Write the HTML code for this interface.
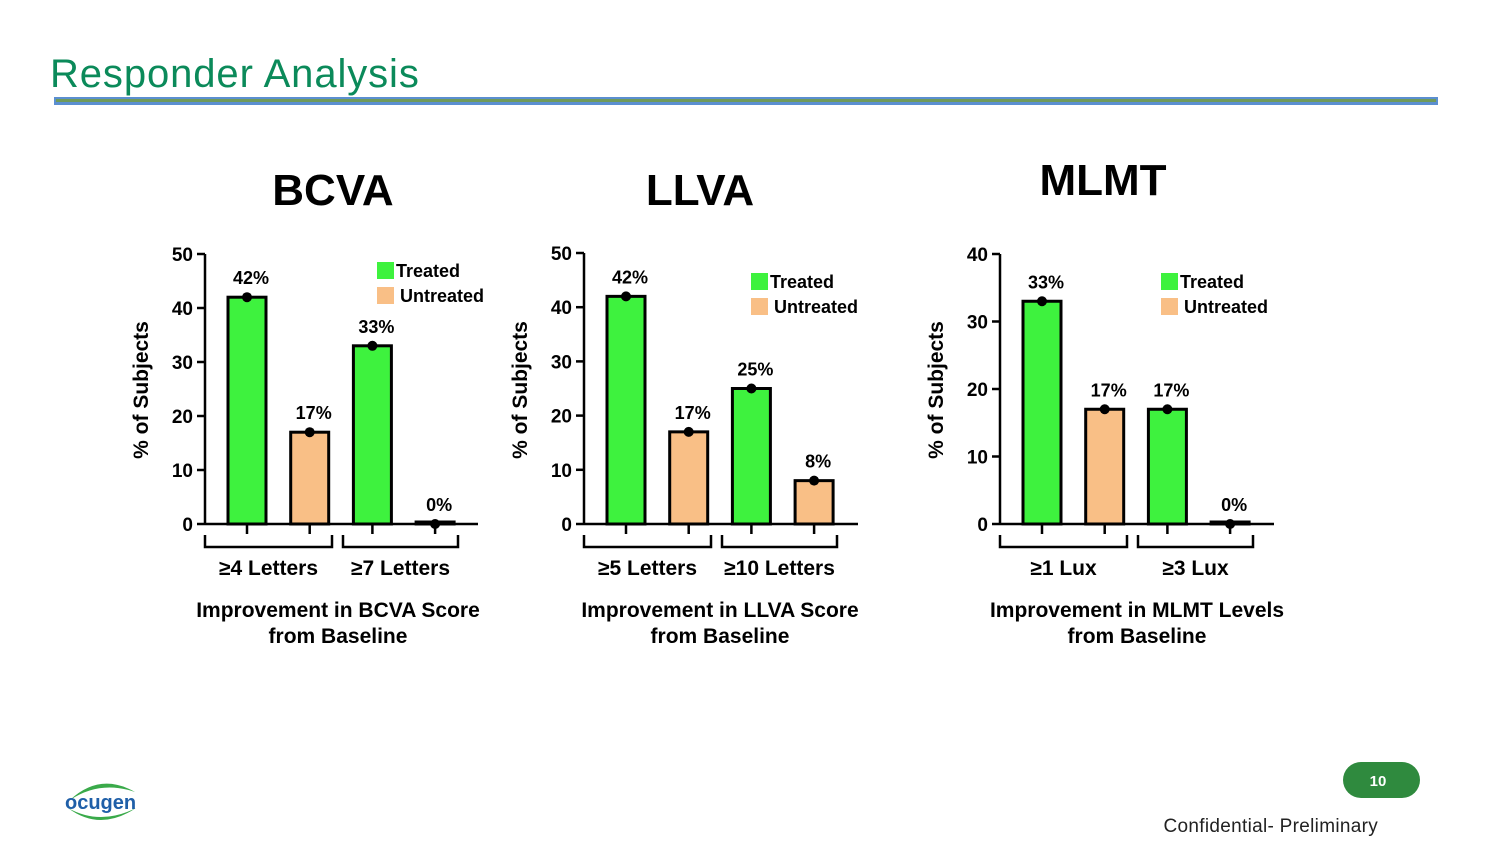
<!DOCTYPE html>
<html><head><meta charset="utf-8"><style>
body{margin:0;background:#fff;width:1500px;height:844px;overflow:hidden;font-family:"Liberation Sans",sans-serif}
svg text{font-family:"Liberation Sans",sans-serif}
</style></head><body>
<svg id="s" width="1500" height="844" xmlns="http://www.w3.org/2000/svg">
<text x="50" y="87" font-family="Liberation Sans" font-size="40" letter-spacing="0.9" fill="#0b8a5a">Responder Analysis</text>
<rect x="54" y="97" width="1384" height="8" fill="#5b8fd0"/>
<rect x="56" y="99" width="1380" height="3" fill="#6f9a5a"/>
<g>
<path d="M70 800 Q100 772 135 792 Q100 780 70 800Z" fill="#3aaa4a"/>
<path d="M68 808 Q100 832 136 808 Q100 826 68 808Z" fill="#3aaa4a"/>
<text x="65" y="809" font-size="20" font-weight="bold" fill="#1f5fa8">ocugen</text>
</g>
<rect x="1343" y="762" width="77" height="36" rx="18" fill="#2f8a3e"/>
<text x="1378" y="786" font-size="15" font-weight="bold" fill="#fff" text-anchor="middle">10</text>
<text x="1378" y="832" font-size="19" fill="#222" text-anchor="end" letter-spacing="0.3">Confidential- Preliminary</text>
<g id="charts"></g>
</svg>
<script>
const titles=["BCVA","LLVA","MLMT"];
const groupLabels=[["≥4 Letters","≥7 Letters"],["≥5 Letters","≥10 Letters"],["≥1 Lux","≥3 Lux"]];
const xTitles=[["Improvement in BCVA Score","from Baseline"],["Improvement in LLVA Score","from Baseline"],["Improvement in MLMT Levels","from Baseline"]];
const valuesBCVA=[42,17,33,0];
const valuesLLVA=[42,17,25,8];
const valuesMLMT=[33,17,17,0];
const allValues=[valuesBCVA,valuesLLVA,valuesMLMT];
const yMaxes=[50,50,40];
const yTicks=[[0,10,20,30,40,50],[0,10,20,30,40,50],[0,10,20,30,40]];
const barKinds=["treated","untreated","treated","untreated"];
const seriesNames=["Treated","Untreated"];

const layout=[{ax:205,top:254,end:478,tx:333,ty:205,lx:377,ly:262,xc:338},
{ax:584,top:253,end:858,tx:700,ty:205,lx:751,ly:273,xc:720},
{ax:1000,top:254,end:1274,tx:1103,ty:195,lx:1161,ly:273,xc:1137}];
const NS="http://www.w3.org/2000/svg";
const root=document.getElementById('charts');
function mk(tag,attrs,parent,txt){const e=document.createElementNS(NS,tag);for(const k in attrs)e.setAttribute(k,attrs[k]);if(txt!==undefined)e.textContent=txt;parent.appendChild(e);return e;}
const colors={treated:"#3ef23e",untreated:"#f9bf86"};
allValues.forEach((vals,ci)=>{
 const L=layout[ci],y0=524,yMax=yMaxes[ci];
 const y=v=>y0-(v/yMax)*(y0-L.top);
 const x=i=>L.ax+42+i*62.7;
 const g=mk('g',{},root);
 
 
 const t=mk('text',{x:L.tx,y:L.ty,'font-size':44,'font-weight':'bold','text-anchor':'middle'},g,titles[ci]);
 
 
 const ya=mk('line',{x1:L.ax,y1:L.top,x2:L.ax,y2:y0,stroke:'#000','stroke-width':2.5},g);
 
 
 yTicks[ci].forEach(v=>{
  mk('line',{x1:L.ax-8,y1:y(v),x2:L.ax,y2:y(v),stroke:'#000','stroke-width':2.5},g);
  const tl=mk('text',{x:L.ax-12,y:y(v)+7,'font-size':19,'font-weight':'bold','text-anchor':'end'},g,String(v));
  
  
 });
 const yt=mk('text',{x:0,y:0,'font-size':21,'font-weight':'bold','text-anchor':'middle',transform:`translate(${L.ax-57},390) rotate(-90)`},g,'% of Subjects');
 
 
 vals.forEach((v,i)=>{
  const cx=x(i),top=Math.min(y(v),y0-2);
  const b=mk('rect',{x:cx-19,y:top,width:38,height:y0-top,fill:colors[barKinds[i]],stroke:'#000','stroke-width':3},g);
  
  
  mk('circle',{cx:cx,cy:y(v),r:5,fill:'#000'},g);
  const vl=mk('text',{x:cx+4,y:y(v)-13,'font-size':18,'font-weight':'bold','text-anchor':'middle'},g,v+'%');
  
  
  mk('line',{x1:cx,y1:y0,x2:cx,y2:y0+10,stroke:'#000','stroke-width':2.5},g);
 });
 const xa=mk('line',{x1:L.ax,y1:y0,x2:L.end,y2:y0,stroke:'#000','stroke-width':2.5},g);
 
 
 [[L.ax,L.ax+127],[L.ax+138,L.ax+253]].forEach((br,k)=>{
  const p=mk('path',{d:`M${br[0]} 535 V547 H${br[1]} V535`,fill:'none',stroke:'#000','stroke-width':2.5},g);
  
  
  const gl=mk('text',{x:(br[0]+br[1])/2,y:575,'font-size':21,'font-weight':'bold','text-anchor':'middle'},g,groupLabels[ci][k]);
  
  
 });
 xTitles[ci].forEach((s,k)=>{
  const xt=mk('text',{x:L.xc,y:617+k*26,'font-size':21,'font-weight':'bold','text-anchor':'middle'},g,s);
  
  
 });
 seriesNames.forEach((n,k)=>{
  const sq=mk('rect',{x:L.lx,y:L.ly+k*25,width:17,height:17,fill:colors[k?'untreated':'treated']},g);
  
  
  const lt=mk('text',{x:L.lx+19+k*4,y:L.ly+15+k*25,'font-size':18,'font-weight':'bold'},g,n);
  
  
 });
});
</script>
</body></html>
